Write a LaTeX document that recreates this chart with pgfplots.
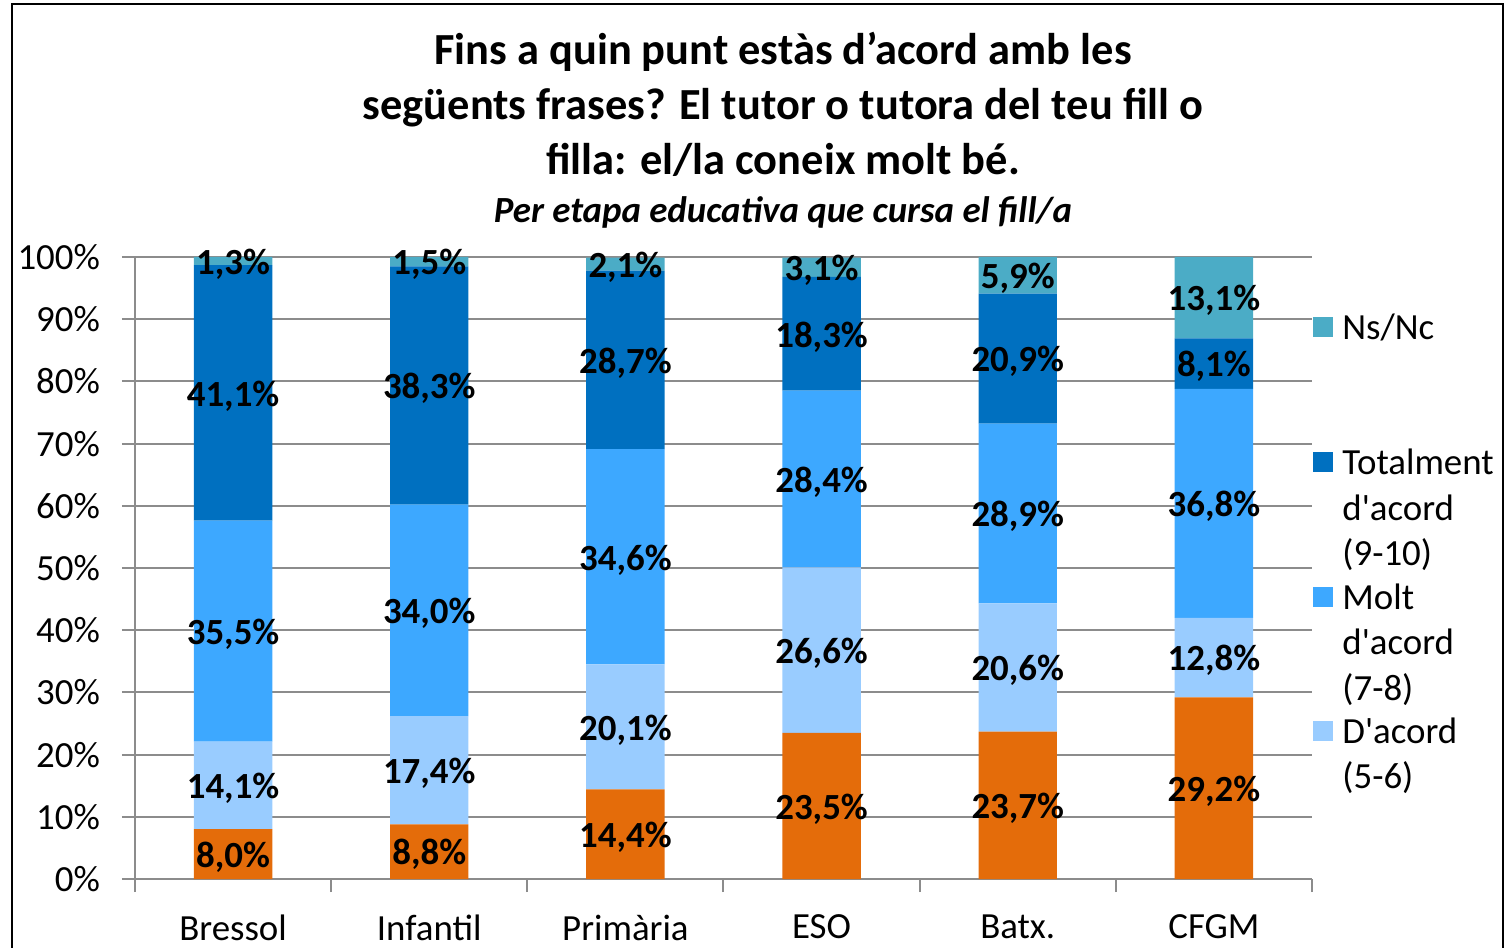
\documentclass[border=0pt]{standalone}
\usepackage{fontspec}
\setmainfont{Carlito}
\usepackage{pgfplots}
\pgfplotsset{compat=1.18}
\definecolor{corange}{HTML}{E46C0A}
\definecolor{clight}{HTML}{99CCFF}
\definecolor{cmid}{HTML}{3DA8FF}
\definecolor{cdark}{HTML}{0070C0}
\definecolor{cteal}{HTML}{4BACC6}
\definecolor{cgrid}{HTML}{8C8C8C}
\newcommand{\lab}{\fontsize{18.5}{22.75}\selectfont}
\newcommand{\ttl}{\fontsize{22.3}{27.5}\selectfont}

\begin{document}
\begin{tikzpicture}
\useasboundingbox (-67.5bp,-34.5bp) rectangle (688bp,439.5bp);
\draw[line width=1bp] (-61.5bp,-40bp) -- (-61.5bp,437.5bp) -- (684bp,437.5bp) -- (684bp,-40bp);

% titles
\node[font=\ttl\bfseries, anchor=base] at (324bp,407bp) {Fins a quin punt estàs d’acord amb les};
\node[font=\ttl\bfseries, anchor=base] at (324bp,379.5bp) {següents frases? El tutor o tutora del teu fill o};
\node[font=\ttl\bfseries, anchor=base] at (324bp,352bp) {filla: el/la coneix molt bé.};
\node[font=\lab\bfseries\itshape, anchor=base] at (324bp,328bp) {Per etapa educativa que cursa el fill/a};

\begin{axis}[
  at={(0,0)}, anchor=south west,
  width=588.5bp, height=311bp, scale only axis,
  xmin=-0.5, xmax=5.5, ymin=0, ymax=100,
  ybar stacked, bar width=0.4,
  axis x line*=bottom, axis y line*=left,
  axis line style={cgrid, line width=1bp},
  ytick={0,10,...,100},
  yticklabels={0\%,10\%,20\%,30\%,40\%,50\%,60\%,70\%,80\%,90\%,100\%},
  ymajorgrids, grid style={cgrid, line width=1bp},
  xtick={-0.5,0.5,...,5.5}, xticklabels={},
  extra x ticks={0,1,2,3,4,5},
  extra x tick labels={Bressol,Infantil,Primària,ESO,Batx.,CFGM},
  extra x tick style={major tick length=0pt, grid=none},
  tick align=outside, major tick length=6.5bp,
  tick style={cgrid, line width=1bp},
  ticklabel style={font=\lab},
  yticklabel style={anchor=east, xshift=-7.5bp},
  xticklabel style={yshift=-14.5bp},
]
\addplot[fill=corange, draw=none] coordinates {(0,8.0) (1,8.8) (2,14.4) (3,23.5) (4,23.7) (5,29.2)};
\addplot[fill=clight, draw=none] coordinates {(0,14.1) (1,17.4) (2,20.1) (3,26.6) (4,20.6) (5,12.8)};
\addplot[fill=cmid, draw=none] coordinates {(0,35.5) (1,34.0) (2,34.6) (3,28.4) (4,28.9) (5,36.8)};
\addplot[fill=cdark, draw=none] coordinates {(0,41.1) (1,38.3) (2,28.7) (3,18.3) (4,20.9) (5,8.1)};
\addplot[fill=cteal, draw=none] coordinates {(0,1.3) (1,1.5) (2,2.1) (3,3.1) (4,5.9) (5,13.1)};
\end{axis}

% data labels, at the middle of each segment
\begin{axis}[
  at={(0,0)}, anchor=south west,
  width=588.5bp, height=311bp, scale only axis,
  xmin=-0.5, xmax=5.5, ymin=0, ymax=100,
  hide axis, clip=false,
]
\addplot[only marks, mark=none, nodes near coords, point meta=explicit symbolic,
  nodes near coords style={anchor=center, yshift=-1.5bp, font=\lab\bfseries, inner sep=0pt}]
  table[x=x, y=y, meta=lab] {
x y lab
0 4.00 8,0\%
0 15.05 14,1\%
0 39.85 35,5\%
0 78.15 41,1\%
0 99.35 1,3\%
1 4.40 8,8\%
1 17.50 17,4\%
1 43.20 34,0\%
1 79.35 38,3\%
1 99.25 1,5\%
2 7.20 14,4\%
2 24.45 20,1\%
2 51.80 34,6\%
2 83.45 28,7\%
2 98.85 2,1\%
3 11.75 23,5\%
3 36.80 26,6\%
3 64.30 28,4\%
3 87.65 18,3\%
3 98.35 3,1\%
4 11.85 23,7\%
4 34.00 20,6\%
4 58.75 28,9\%
4 83.65 20,9\%
4 97.05 5,9\%
5 14.60 29,2\%
5 35.60 12,8\%
5 60.40 36,8\%
5 82.85 8,1\%
5 93.45 13,1\%
};
\end{axis}

% legend
\fill[cteal] (589bp,271bp) rectangle (599bp,281bp);
\fill[cdark] (589bp,203.5bp) rectangle (599bp,213.5bp);
\fill[cmid] (589bp,136bp) rectangle (599bp,146bp);
\fill[clight] (589bp,69bp) rectangle (599bp,79bp);
\begin{scope}[every node/.style={font=\lab, anchor=base west, inner sep=0pt}]
\node at (603.5bp,269.5bp) {Ns/Nc};
\node at (603.5bp,202bp) {Totalment};
\node at (603.5bp,179.25bp) {d\textquotesingle acord};
\node at (603.5bp,156.5bp) {(9-10)};
\node at (603.5bp,134.75bp) {Molt};
\node at (603.5bp,112bp) {d\textquotesingle acord};
\node at (603.5bp,89.25bp) {(7-8)};
\node at (603.5bp,67.75bp) {D\textquotesingle acord};
\node at (603.5bp,45bp) {(5-6)};
\end{scope}
\end{tikzpicture}
\end{document}
